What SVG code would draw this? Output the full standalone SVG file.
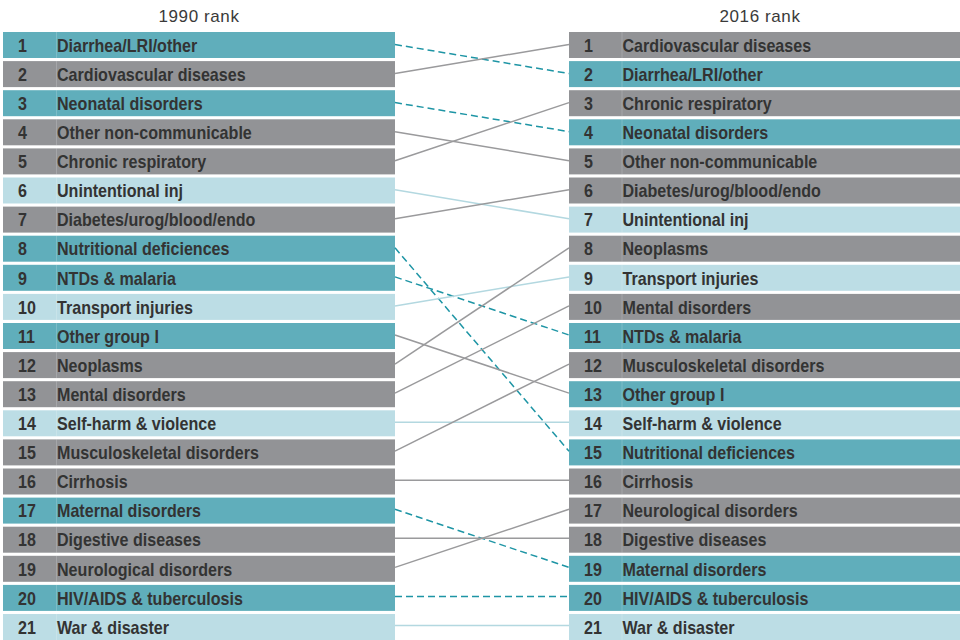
<svg xmlns="http://www.w3.org/2000/svg" width="960" height="640" viewBox="0 0 960 640">
<style>
.bt{fill:#60aebb}.bg{fill:#929396}.bl{fill:#bcdde5}
.sep{stroke:#ffffff;stroke-opacity:0.18;stroke-width:1}
.n,.lab{font-family:"Liberation Sans",Arial,sans-serif;font-weight:bold;font-size:17.5px;fill:#333333}
.hd{font-family:"Liberation Sans",Arial,sans-serif;font-size:17px;letter-spacing:0.6px;fill:#3a3a3a;text-anchor:middle}
.dt{stroke:#1e95a5;stroke-width:1.5;stroke-dasharray:7 4;fill:none}
.sg{stroke:#9a9a9c;stroke-width:1.5;fill:none}
.sl{stroke:#b3d8e0;stroke-width:1.5;fill:none}
</style>
<rect width="960" height="640" fill="#ffffff"/>
<text class="hd" x="199" y="22">1990 rank</text>
<text class="hd" x="760" y="22">2016 rank</text>

<g id="left">
<g id="l1" transform="translate(3,32)"><rect class="bt" width="392" height="26"/><line class="sep" x1="53.5" y1="0" x2="53.5" y2="26"/><text class="n" transform="translate(15,19.7) scale(0.92,1)">1</text><text class="lab" transform="translate(54,19.7) scale(0.92,1)">Diarrhea/LRI/other</text></g>
<g id="l2" transform="translate(3,61.1)"><rect class="bg" width="392" height="26"/><line class="sep" x1="53.5" y1="0" x2="53.5" y2="26"/><text class="n" transform="translate(15,19.7) scale(0.92,1)">2</text><text class="lab" transform="translate(54,19.7) scale(0.92,1)">Cardiovascular diseases</text></g>
<g id="l3" transform="translate(3,90.2)"><rect class="bt" width="392" height="26"/><line class="sep" x1="53.5" y1="0" x2="53.5" y2="26"/><text class="n" transform="translate(15,19.7) scale(0.92,1)">3</text><text class="lab" transform="translate(54,19.7) scale(0.92,1)">Neonatal disorders</text></g>
<g id="l4" transform="translate(3,119.3)"><rect class="bg" width="392" height="26"/><line class="sep" x1="53.5" y1="0" x2="53.5" y2="26"/><text class="n" transform="translate(15,19.7) scale(0.92,1)">4</text><text class="lab" transform="translate(54,19.7) scale(0.92,1)">Other non-communicable</text></g>
<g id="l5" transform="translate(3,148.4)"><rect class="bg" width="392" height="26"/><line class="sep" x1="53.5" y1="0" x2="53.5" y2="26"/><text class="n" transform="translate(15,19.7) scale(0.92,1)">5</text><text class="lab" transform="translate(54,19.7) scale(0.92,1)">Chronic respiratory</text></g>
<g id="l6" transform="translate(3,177.5)"><rect class="bl" width="392" height="26"/><line class="sep" x1="53.5" y1="0" x2="53.5" y2="26"/><text class="n" transform="translate(15,19.7) scale(0.92,1)">6</text><text class="lab" transform="translate(54,19.7) scale(0.92,1)">Unintentional inj</text></g>
<g id="l7" transform="translate(3,206.6)"><rect class="bg" width="392" height="26"/><line class="sep" x1="53.5" y1="0" x2="53.5" y2="26"/><text class="n" transform="translate(15,19.7) scale(0.92,1)">7</text><text class="lab" transform="translate(54,19.7) scale(0.92,1)">Diabetes/urog/blood/endo</text></g>
<g id="l8" transform="translate(3,235.7)"><rect class="bt" width="392" height="26"/><line class="sep" x1="53.5" y1="0" x2="53.5" y2="26"/><text class="n" transform="translate(15,19.7) scale(0.92,1)">8</text><text class="lab" transform="translate(54,19.7) scale(0.92,1)">Nutritional deficiences</text></g>
<g id="l9" transform="translate(3,264.8)"><rect class="bt" width="392" height="26"/><line class="sep" x1="53.5" y1="0" x2="53.5" y2="26"/><text class="n" transform="translate(15,19.7) scale(0.92,1)">9</text><text class="lab" transform="translate(54,19.7) scale(0.92,1)">NTDs &amp; malaria</text></g>
<g id="l10" transform="translate(3,293.9)"><rect class="bl" width="392" height="26"/><line class="sep" x1="53.5" y1="0" x2="53.5" y2="26"/><text class="n" transform="translate(15,19.7) scale(0.92,1)">10</text><text class="lab" transform="translate(54,19.7) scale(0.92,1)">Transport injuries</text></g>
<g id="l11" transform="translate(3,323)"><rect class="bt" width="392" height="26"/><line class="sep" x1="53.5" y1="0" x2="53.5" y2="26"/><text class="n" transform="translate(15,19.7) scale(0.92,1)">11</text><text class="lab" transform="translate(54,19.7) scale(0.92,1)">Other group I</text></g>
<g id="l12" transform="translate(3,352.1)"><rect class="bg" width="392" height="26"/><line class="sep" x1="53.5" y1="0" x2="53.5" y2="26"/><text class="n" transform="translate(15,19.7) scale(0.92,1)">12</text><text class="lab" transform="translate(54,19.7) scale(0.92,1)">Neoplasms</text></g>
<g id="l13" transform="translate(3,381.2)"><rect class="bg" width="392" height="26"/><line class="sep" x1="53.5" y1="0" x2="53.5" y2="26"/><text class="n" transform="translate(15,19.7) scale(0.92,1)">13</text><text class="lab" transform="translate(54,19.7) scale(0.92,1)">Mental disorders</text></g>
<g id="l14" transform="translate(3,410.3)"><rect class="bl" width="392" height="26"/><line class="sep" x1="53.5" y1="0" x2="53.5" y2="26"/><text class="n" transform="translate(15,19.7) scale(0.92,1)">14</text><text class="lab" transform="translate(54,19.7) scale(0.92,1)">Self-harm &amp; violence</text></g>
<g id="l15" transform="translate(3,439.4)"><rect class="bg" width="392" height="26"/><line class="sep" x1="53.5" y1="0" x2="53.5" y2="26"/><text class="n" transform="translate(15,19.7) scale(0.92,1)">15</text><text class="lab" transform="translate(54,19.7) scale(0.92,1)">Musculoskeletal disorders</text></g>
<g id="l16" transform="translate(3,468.5)"><rect class="bg" width="392" height="26"/><line class="sep" x1="53.5" y1="0" x2="53.5" y2="26"/><text class="n" transform="translate(15,19.7) scale(0.92,1)">16</text><text class="lab" transform="translate(54,19.7) scale(0.92,1)">Cirrhosis</text></g>
<g id="l17" transform="translate(3,497.6)"><rect class="bt" width="392" height="26"/><line class="sep" x1="53.5" y1="0" x2="53.5" y2="26"/><text class="n" transform="translate(15,19.7) scale(0.92,1)">17</text><text class="lab" transform="translate(54,19.7) scale(0.92,1)">Maternal disorders</text></g>
<g id="l18" transform="translate(3,526.7)"><rect class="bg" width="392" height="26"/><line class="sep" x1="53.5" y1="0" x2="53.5" y2="26"/><text class="n" transform="translate(15,19.7) scale(0.92,1)">18</text><text class="lab" transform="translate(54,19.7) scale(0.92,1)">Digestive diseases</text></g>
<g id="l19" transform="translate(3,555.8)"><rect class="bg" width="392" height="26"/><line class="sep" x1="53.5" y1="0" x2="53.5" y2="26"/><text class="n" transform="translate(15,19.7) scale(0.92,1)">19</text><text class="lab" transform="translate(54,19.7) scale(0.92,1)">Neurological disorders</text></g>
<g id="l20" transform="translate(3,584.9)"><rect class="bt" width="392" height="26"/><line class="sep" x1="53.5" y1="0" x2="53.5" y2="26"/><text class="n" transform="translate(15,19.7) scale(0.92,1)">20</text><text class="lab" transform="translate(54,19.7) scale(0.92,1)">HIV/AIDS &amp; tuberculosis</text></g>
<g id="l21" transform="translate(3,614)"><rect class="bl" width="392" height="26"/><line class="sep" x1="53.5" y1="0" x2="53.5" y2="26"/><text class="n" transform="translate(15,19.7) scale(0.92,1)">21</text><text class="lab" transform="translate(54,19.7) scale(0.92,1)">War &amp; disaster</text></g>
</g>

<g id="right">
<g id="r1" transform="translate(569,32)"><rect class="bg" width="391" height="26"/><line class="sep" x1="53" y1="0" x2="53" y2="26"/><text class="n" transform="translate(15,19.7) scale(0.92,1)">1</text><text class="lab" transform="translate(53.5,19.7) scale(0.92,1)">Cardiovascular diseases</text></g>
<g id="r2" transform="translate(569,61.1)"><rect class="bt" width="391" height="26"/><line class="sep" x1="53" y1="0" x2="53" y2="26"/><text class="n" transform="translate(15,19.7) scale(0.92,1)">2</text><text class="lab" transform="translate(53.5,19.7) scale(0.92,1)">Diarrhea/LRI/other</text></g>
<g id="r3" transform="translate(569,90.2)"><rect class="bg" width="391" height="26"/><line class="sep" x1="53" y1="0" x2="53" y2="26"/><text class="n" transform="translate(15,19.7) scale(0.92,1)">3</text><text class="lab" transform="translate(53.5,19.7) scale(0.92,1)">Chronic respiratory</text></g>
<g id="r4" transform="translate(569,119.3)"><rect class="bt" width="391" height="26"/><line class="sep" x1="53" y1="0" x2="53" y2="26"/><text class="n" transform="translate(15,19.7) scale(0.92,1)">4</text><text class="lab" transform="translate(53.5,19.7) scale(0.92,1)">Neonatal disorders</text></g>
<g id="r5" transform="translate(569,148.4)"><rect class="bg" width="391" height="26"/><line class="sep" x1="53" y1="0" x2="53" y2="26"/><text class="n" transform="translate(15,19.7) scale(0.92,1)">5</text><text class="lab" transform="translate(53.5,19.7) scale(0.92,1)">Other non-communicable</text></g>
<g id="r6" transform="translate(569,177.5)"><rect class="bg" width="391" height="26"/><line class="sep" x1="53" y1="0" x2="53" y2="26"/><text class="n" transform="translate(15,19.7) scale(0.92,1)">6</text><text class="lab" transform="translate(53.5,19.7) scale(0.92,1)">Diabetes/urog/blood/endo</text></g>
<g id="r7" transform="translate(569,206.6)"><rect class="bl" width="391" height="26"/><line class="sep" x1="53" y1="0" x2="53" y2="26"/><text class="n" transform="translate(15,19.7) scale(0.92,1)">7</text><text class="lab" transform="translate(53.5,19.7) scale(0.92,1)">Unintentional inj</text></g>
<g id="r8" transform="translate(569,235.7)"><rect class="bg" width="391" height="26"/><line class="sep" x1="53" y1="0" x2="53" y2="26"/><text class="n" transform="translate(15,19.7) scale(0.92,1)">8</text><text class="lab" transform="translate(53.5,19.7) scale(0.92,1)">Neoplasms</text></g>
<g id="r9" transform="translate(569,264.8)"><rect class="bl" width="391" height="26"/><line class="sep" x1="53" y1="0" x2="53" y2="26"/><text class="n" transform="translate(15,19.7) scale(0.92,1)">9</text><text class="lab" transform="translate(53.5,19.7) scale(0.92,1)">Transport injuries</text></g>
<g id="r10" transform="translate(569,293.9)"><rect class="bg" width="391" height="26"/><line class="sep" x1="53" y1="0" x2="53" y2="26"/><text class="n" transform="translate(15,19.7) scale(0.92,1)">10</text><text class="lab" transform="translate(53.5,19.7) scale(0.92,1)">Mental disorders</text></g>
<g id="r11" transform="translate(569,323)"><rect class="bt" width="391" height="26"/><line class="sep" x1="53" y1="0" x2="53" y2="26"/><text class="n" transform="translate(15,19.7) scale(0.92,1)">11</text><text class="lab" transform="translate(53.5,19.7) scale(0.92,1)">NTDs &amp; malaria</text></g>
<g id="r12" transform="translate(569,352.1)"><rect class="bg" width="391" height="26"/><line class="sep" x1="53" y1="0" x2="53" y2="26"/><text class="n" transform="translate(15,19.7) scale(0.92,1)">12</text><text class="lab" transform="translate(53.5,19.7) scale(0.92,1)">Musculoskeletal disorders</text></g>
<g id="r13" transform="translate(569,381.2)"><rect class="bt" width="391" height="26"/><line class="sep" x1="53" y1="0" x2="53" y2="26"/><text class="n" transform="translate(15,19.7) scale(0.92,1)">13</text><text class="lab" transform="translate(53.5,19.7) scale(0.92,1)">Other group I</text></g>
<g id="r14" transform="translate(569,410.3)"><rect class="bl" width="391" height="26"/><line class="sep" x1="53" y1="0" x2="53" y2="26"/><text class="n" transform="translate(15,19.7) scale(0.92,1)">14</text><text class="lab" transform="translate(53.5,19.7) scale(0.92,1)">Self-harm &amp; violence</text></g>
<g id="r15" transform="translate(569,439.4)"><rect class="bt" width="391" height="26"/><line class="sep" x1="53" y1="0" x2="53" y2="26"/><text class="n" transform="translate(15,19.7) scale(0.92,1)">15</text><text class="lab" transform="translate(53.5,19.7) scale(0.92,1)">Nutritional deficiences</text></g>
<g id="r16" transform="translate(569,468.5)"><rect class="bg" width="391" height="26"/><line class="sep" x1="53" y1="0" x2="53" y2="26"/><text class="n" transform="translate(15,19.7) scale(0.92,1)">16</text><text class="lab" transform="translate(53.5,19.7) scale(0.92,1)">Cirrhosis</text></g>
<g id="r17" transform="translate(569,497.6)"><rect class="bg" width="391" height="26"/><line class="sep" x1="53" y1="0" x2="53" y2="26"/><text class="n" transform="translate(15,19.7) scale(0.92,1)">17</text><text class="lab" transform="translate(53.5,19.7) scale(0.92,1)">Neurological disorders</text></g>
<g id="r18" transform="translate(569,526.7)"><rect class="bg" width="391" height="26"/><line class="sep" x1="53" y1="0" x2="53" y2="26"/><text class="n" transform="translate(15,19.7) scale(0.92,1)">18</text><text class="lab" transform="translate(53.5,19.7) scale(0.92,1)">Digestive diseases</text></g>
<g id="r19" transform="translate(569,555.8)"><rect class="bt" width="391" height="26"/><line class="sep" x1="53" y1="0" x2="53" y2="26"/><text class="n" transform="translate(15,19.7) scale(0.92,1)">19</text><text class="lab" transform="translate(53.5,19.7) scale(0.92,1)">Maternal disorders</text></g>
<g id="r20" transform="translate(569,584.9)"><rect class="bt" width="391" height="26"/><line class="sep" x1="53" y1="0" x2="53" y2="26"/><text class="n" transform="translate(15,19.7) scale(0.92,1)">20</text><text class="lab" transform="translate(53.5,19.7) scale(0.92,1)">HIV/AIDS &amp; tuberculosis</text></g>
<g id="r21" transform="translate(569,614)"><rect class="bl" width="391" height="26"/><line class="sep" x1="53" y1="0" x2="53" y2="26"/><text class="n" transform="translate(15,19.7) scale(0.92,1)">21</text><text class="lab" transform="translate(53.5,19.7) scale(0.92,1)">War &amp; disaster</text></g>
</g>

<g id="connectors">
<line class="dt" x1="395" y1="44.5" x2="569" y2="73.55"/>
<line class="sg" x1="395" y1="73.55" x2="569" y2="44.5"/>
<line class="dt" x1="395" y1="102.6" x2="569" y2="131.65"/>
<line class="sg" x1="395" y1="131.65" x2="569" y2="160.7"/>
<line class="sg" x1="395" y1="160.7" x2="569" y2="102.6"/>
<line class="sl" x1="395" y1="189.75" x2="569" y2="218.8"/>
<line class="sg" x1="395" y1="218.8" x2="569" y2="189.75"/>
<line class="dt" x1="395" y1="247.85" x2="569" y2="451.2"/>
<line class="dt" x1="395" y1="276.9" x2="569" y2="335"/>
<line class="sl" x1="395" y1="305.95" x2="569" y2="276.9"/>
<line class="sg" x1="395" y1="335" x2="569" y2="393.1"/>
<line class="sg" x1="395" y1="364.05" x2="569" y2="247.85"/>
<line class="sg" x1="395" y1="393.1" x2="569" y2="305.95"/>
<line class="sl" x1="395" y1="422.15" x2="569" y2="422.15"/>
<line class="sg" x1="395" y1="451.2" x2="569" y2="364.05"/>
<line class="sg" x1="395" y1="480.25" x2="569" y2="480.25"/>
<line class="dt" x1="395" y1="509.3" x2="569" y2="567.4"/>
<line class="sg" x1="395" y1="538.35" x2="569" y2="538.35"/>
<line class="sg" x1="395" y1="567.4" x2="569" y2="509.3"/>
<line class="dt" x1="395" y1="596.45" x2="569" y2="596.45"/>
<line class="sl" x1="395" y1="625.5" x2="569" y2="625.5"/>
</g>
</svg>
